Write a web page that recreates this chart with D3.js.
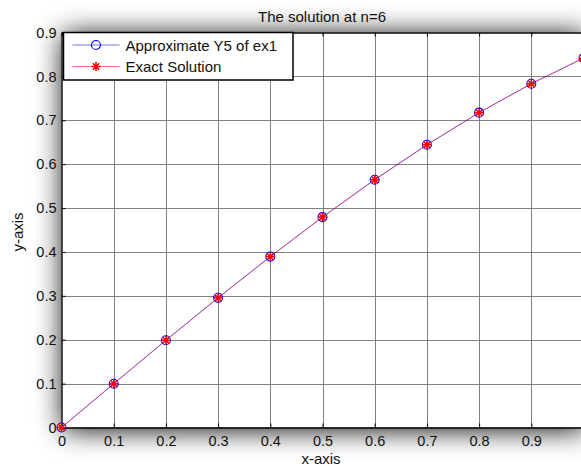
<!DOCTYPE html>
<html>
<head>
<meta charset="utf-8">
<script src="https://cdn.jsdelivr.net/npm/d3@7"></script>
<style>
  body { margin: 0; background: #fff; }
  text { font-family: "Liberation Sans", Arial, sans-serif; fill: #111; }
</style>
</head>
<body>
<div id="chart"></div>
<script>
// data
const xValues = [0, 0.1, 0.2, 0.3, 0.4, 0.5, 0.6, 0.7, 0.8, 0.9, 1.0];
const approxY5 = [0, 0.0998, 0.1987, 0.2955, 0.3894, 0.4794, 0.5646, 0.6442, 0.7174, 0.7833, 0.8415];
const exactSolution = [0, 0.0998, 0.1987, 0.2955, 0.3894, 0.4794, 0.5646, 0.6442, 0.7174, 0.7833, 0.8415];
const xTicks = [0, 0.1, 0.2, 0.3, 0.4, 0.5, 0.6, 0.7, 0.8, 0.9];
const yTicks = [0, 0.1, 0.2, 0.3, 0.4, 0.5, 0.6, 0.7, 0.8, 0.9];
const seriesNames = ["Approximate Y5 of ex1", "Exact Solution"];
const titleText = "The solution at n=6";

const width = 581, height = 466;
const plot = { left: 61.5, right: 583.5, top: 32.5, bottom: 427.5 };

const svg = d3.select("#chart")
    .append("svg")
    .attr("width", width)
    .attr("height", height);

const x = d3.scaleLinear().domain([0, 1]).range([plot.left, plot.right]);
const y = d3.scaleLinear().domain([0, 0.9]).range([plot.bottom, plot.top]);

// soft shadow round the axes box
const defs = svg.append("defs");
defs.append("filter")
    .attr("id", "shadow")
    .attr("x", "-30%").attr("y", "-30%")
    .attr("width", "160%").attr("height", "160%")
    .append("feGaussianBlur")
    .attr("stdDeviation", 14);

svg.append("rect")
    .attr("x", plot.left + 2).attr("y", plot.top + 2)
    .attr("width", plot.right - plot.left).attr("height", plot.bottom - plot.top)
    .attr("fill", "#000")
    .attr("filter", "url(#shadow)");

svg.append("rect")
    .attr("x", plot.left).attr("y", plot.top)
    .attr("width", plot.right - plot.left).attr("height", plot.bottom - plot.top)
    .attr("fill", "#fff");

// grid
const grid = svg.append("g").attr("stroke", "#808080").attr("stroke-width", 1);
grid.selectAll(".gx")
    .data(xTicks.filter(d => d > 0))
    .enter().append("line")
    .attr("x1", d => Math.round(x(d)) + 0.5).attr("x2", d => Math.round(x(d)) + 0.5)
    .attr("y1", plot.top).attr("y2", plot.bottom);
grid.selectAll(".gy")
    .data(yTicks.filter(d => d > 0 && d < 0.9))
    .enter().append("line")
    .attr("y1", d => Math.round(y(d)) + 0.5).attr("y2", d => Math.round(y(d)) + 0.5)
    .attr("x1", plot.left).attr("x2", plot.right);

// axes, ticks pointing inward
const xAxis = svg.append("g")
    .attr("transform", `translate(0,${plot.bottom})`)
    .call(d3.axisBottom(x).tickValues(xTicks).tickFormat(d3.format("")).tickSize(-4).tickSizeOuter(0).tickPadding(8.5));
const xTop = svg.append("g")
    .attr("transform", `translate(0,${plot.top})`)
    .call(d3.axisTop(x).tickValues(xTicks).tickFormat("").tickSize(-4).tickSizeOuter(0));
const yAxis = svg.append("g")
    .attr("transform", `translate(${plot.left},0)`)
    .call(d3.axisLeft(y).tickValues(yTicks).tickFormat(d3.format("")).tickSize(-4).tickSizeOuter(0).tickPadding(5));

[xAxis, xTop, yAxis].forEach(g => {
    g.select(".domain").attr("stroke", "#000").attr("stroke-width", 1.4);
    g.selectAll(".tick line").attr("stroke", "#000");
    g.selectAll("text").style("font-size", "14.5px").attr("fill", "#111")
        .style("font-family", "'Liberation Sans', Arial, sans-serif");
});

// lines: red under blue, both thin, blending to purple
const lineGen = vals => d3.line().x((d, i) => x(xValues[i])).y(d => y(d))(vals);

svg.append("path")
    .attr("d", lineGen(exactSolution))
    .attr("fill", "none").attr("stroke", "#ff0000").attr("stroke-opacity", 0.6)
    .attr("stroke-width", 1);
svg.append("path")
    .attr("d", lineGen(approxY5))
    .attr("fill", "none").attr("stroke", "#0000ff").attr("stroke-opacity", 0.4)
    .attr("stroke-width", 1);

// markers
const asterisk = r => {
    const k = r * Math.SQRT1_2;
    return `M${-r},0L${r},0M0,${-r}L0,${r}M${-k},${-k}L${k},${k}M${-k},${k}L${k},${-k}`;
};

svg.append("g").selectAll("circle")
    .data(approxY5)
    .enter().append("circle")
    .attr("cx", (d, i) => x(xValues[i]))
    .attr("cy", d => y(d))
    .attr("r", 4.5)
    .attr("fill", "none").attr("stroke", "#0000ff").attr("stroke-width", 1.1);

svg.append("g").selectAll("path")
    .data(exactSolution)
    .enter().append("path")
    .attr("transform", (d, i) => `translate(${x(xValues[i])},${y(d)})`)
    .attr("d", asterisk(4.5))
    .attr("fill", "none").attr("stroke", "#ff0000").attr("stroke-width", 1.5);

// title and axis labels
svg.append("text")
    .attr("x", 322).attr("y", 21.5)
    .attr("text-anchor", "middle")
    .style("font-size", "15px")
    .text(titleText);

svg.append("text")
    .attr("x", 321).attr("y", 463.5)
    .attr("text-anchor", "middle")
    .style("font-size", "15px")
    .text("x-axis");

svg.append("text")
    .attr("transform", "translate(23,232) rotate(-90)")
    .attr("text-anchor", "middle")
    .style("font-size", "15px")
    .text("y-axis");

// legend
const legend = svg.append("g");
legend.append("rect")
    .attr("x", 63.5).attr("y", 32.5)
    .attr("width", 229.5).attr("height", 47.5)
    .attr("fill", "#fff").attr("stroke", "#000").attr("stroke-width", 1.5);

const legendRows = [
    { name: seriesNames[0], color: "#0000ff", y: 45 },
    { name: seriesNames[1], color: "#ff0000", y: 66.5 }
];
const item = legend.selectAll(".item")
    .data(legendRows)
    .enter().append("g")
    .attr("transform", d => `translate(0,${d.y})`);

item.append("line")
    .attr("x1", 72.5).attr("x2", 119.5)
    .attr("stroke", d => d.color).attr("stroke-opacity", 0.55).attr("stroke-width", 1);
item.filter((d, i) => i === 0).append("circle")
    .attr("cx", 96).attr("r", 4.5)
    .attr("fill", "none").attr("stroke", "#0000ff").attr("stroke-width", 1.1);
item.filter((d, i) => i === 1).append("path")
    .attr("transform", "translate(96,0)")
    .attr("d", asterisk(4.5))
    .attr("fill", "none").attr("stroke", "#ff0000").attr("stroke-width", 1.5);
item.append("text")
    .attr("x", 125.5).attr("y", 5.5)
    .style("font-size", "15px")
    .text(d => d.name);
</script>
</body>
</html>
